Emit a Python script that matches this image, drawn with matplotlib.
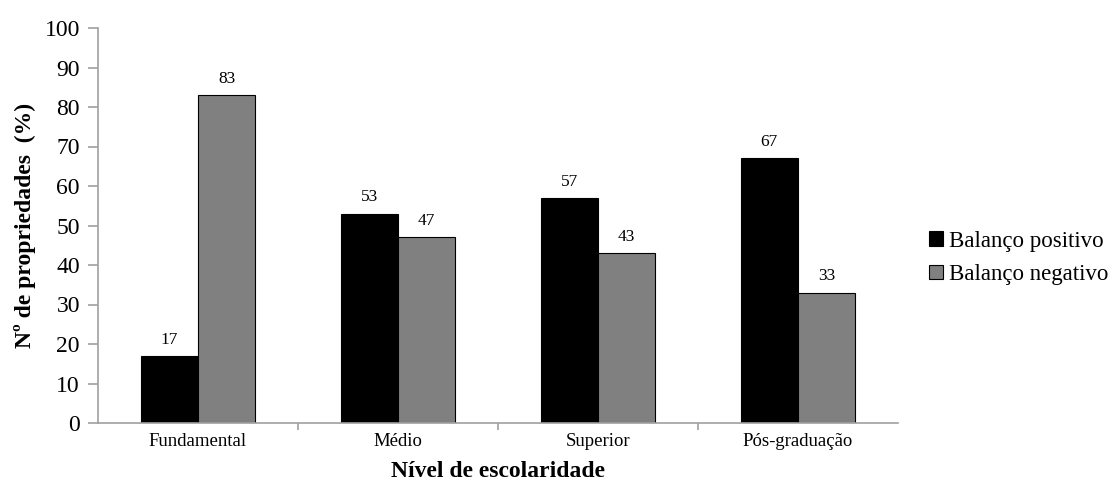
import matplotlib
matplotlib.use("Agg")
import matplotlib.pyplot as plt
import numpy as np

categories = ["Fundamental", "Médio", "Superior", "Pós-graduação"]
positivo = [17, 53, 57, 67]
negativo = [83, 47, 43, 33]
series_names = ["Balanço positivo", "Balanço negativo"]
yticks = list(range(0, 101, 10))

plt.rcParams['font.family'] = ['Liberation Serif', 'DejaVu Serif']

fig = plt.figure(figsize=(11.18, 4.82), dpi=100)
ax = fig.add_axes([98/1118, 59/482, 800/1118, 395/482])

x = np.arange(len(categories))
w = 0.287
b1 = ax.bar(x - w/2, positivo, w, color="black", edgecolor="black", linewidth=0.8, label=series_names[0])
b2 = ax.bar(x + w/2, negativo, w, color="#808080", edgecolor="black", linewidth=0.8, label=series_names[1])

for bars, vals in ((b1, positivo), (b2, negativo)):
    for r, v in zip(bars, vals):
        ax.annotate(str(v), (r.get_x() + r.get_width()/2, v), xytext=(0, 6),
                    textcoords="offset points", ha="center", va="bottom", fontsize=12.5)

ax.set_xlim(-0.5, len(categories) - 0.5)
ax.set_ylim(0, 100)
ax.set_yticks(yticks)
ax.set_yticklabels([str(t) for t in yticks], fontsize=17)
ax.set_xticks(x)
ax.set_xticklabels(categories, fontsize=13.5)
ax.set_xticks(np.arange(0.5, len(categories) - 0.5, 1), minor=True)
ax.tick_params(axis="x", which="major", length=0, pad=7)
ax.tick_params(axis="x", which="minor", length=5, color="#A0A0A0", width=1.2, direction="out")
ax.tick_params(axis="y", length=7, color="#A0A0A0", width=1.2, pad=6)

for s in ("top", "right"):
    ax.spines[s].set_visible(False)
for s in ("left", "bottom"):
    ax.spines[s].set_color("#A0A0A0")
    ax.spines[s].set_linewidth(1.2)

ax.set_ylabel("Nº de propriedades  (%)", fontsize=17, fontweight="bold", labelpad=6)
ax.set_xlabel("Nível de escolaridade", fontsize=17, fontweight="bold", labelpad=8)

leg = ax.legend(loc="center left", bbox_to_anchor=(0.027, 0.418), bbox_transform=ax.transAxes,
                frameon=False, borderaxespad=0,
                fontsize=16.5, handlelength=0.6, handleheight=0.6, handletextpad=0.3,
                labelspacing=0.55)
leg.set_bbox_to_anchor((1.027, 0.418), transform=ax.transAxes)

fig.savefig("out.png", dpi=100)
